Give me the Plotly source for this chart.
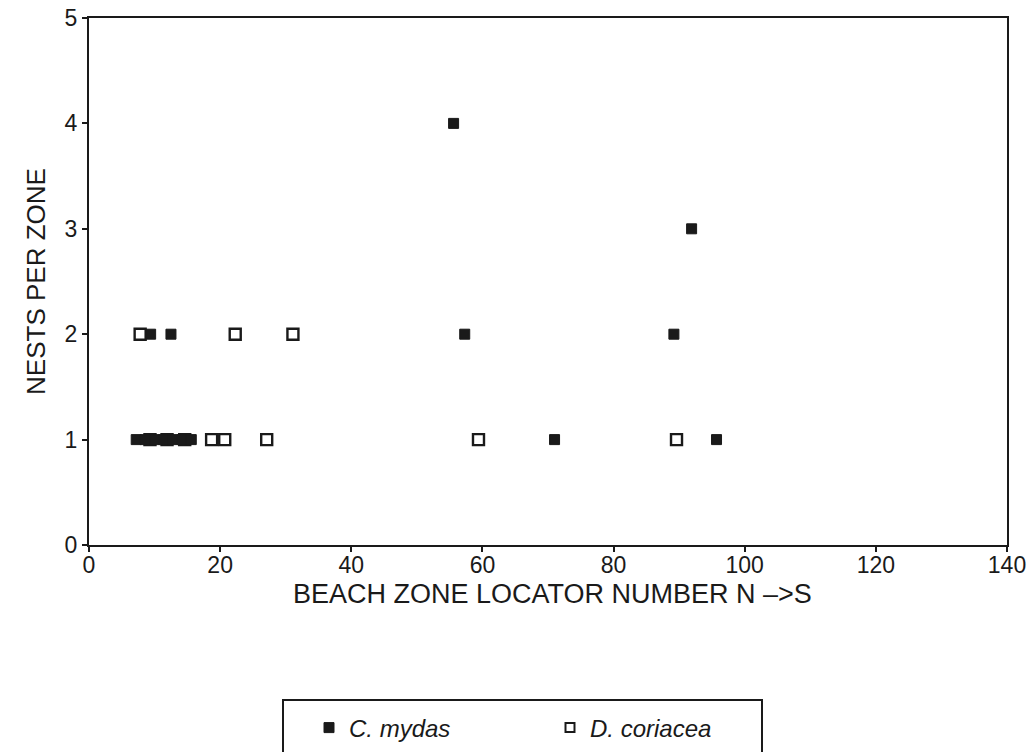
import plotly.graph_objects as go

# C. mydas (filled)
mydas_x = [7.2, 8.6, 10.0, 11.4, 12.8, 14.2, 15.6, 9.4, 12.5, 55.6, 57.3, 89.2, 91.9, 71.0, 95.7]
mydas_y = [1, 1, 1, 1, 1, 1, 1, 2, 2, 4, 2, 2, 3, 1, 1]

# D. coriacea (open)
cor_x = [9.3, 11.9, 14.6, 18.7, 20.7, 27.1, 59.4, 89.6, 7.8, 22.3, 31.1]
cor_y = [1, 1, 1, 1, 1, 1, 1, 1, 2, 2, 2]

x_ticks = [0, 20, 40, 60, 80, 100, 120, 140]
y_ticks = [0, 1, 2, 3, 4, 5]

FONT = "Liberation Sans, Arial, sans-serif"
INK = "#1a1a1a"

fig = go.Figure()
fig.add_trace(go.Scatter(
    x=cor_x, y=cor_y, mode="markers", name="D. coriacea",
    marker=dict(symbol="square", size=11, color="white",
                line=dict(color=INK, width=2.4)),
    showlegend=False))
fig.add_trace(go.Scatter(
    x=mydas_x, y=mydas_y, mode="markers", name="<i>C. mydas</i>",
    marker=dict(symbol="square", size=10, color=INK,
                line=dict(color=INK, width=1))))
fig.add_trace(go.Scatter(
    x=[None], y=[None], mode="markers", name="<i>D. coriacea</i>",
    marker=dict(symbol="square", size=9, color="white",
                line=dict(color=INK, width=2))))

axis_common = dict(
    showline=True, linecolor=INK, linewidth=2, mirror=True,
    showgrid=False, zeroline=False, ticks="outside", ticklen=5,
    tickwidth=1.5, tickcolor=INK, automargin=False,
    tickfont=dict(family=FONT, size=23, color=INK),
)

fig.update_layout(
    width=1036, height=752,
    margin=dict(l=89, r=29, t=18, b=207),
    paper_bgcolor="white", plot_bgcolor="white",
    xaxis=dict(range=[0, 140], tickvals=x_ticks, ticktext=[str(v) for v in x_ticks],
               ticklabelstandoff=-7, **axis_common),
    yaxis=dict(range=[0, 5], tickvals=y_ticks, ticktext=[str(v) for v in y_ticks],
               title=dict(text="NESTS PER ZONE", standoff=12,
                          font=dict(family=FONT, size=26, color=INK)),
               **axis_common),
    legend=dict(orientation="h", xref="container", yref="container",
                x=550 / 1036, xanchor="center", y=(752 - 728) / 752, yanchor="middle",
                font=dict(family=FONT, size=24, color=INK),
                bgcolor="rgba(0,0,0,0)", borderwidth=0,
                entrywidth=196, entrywidthmode="pixels"),
    annotations=[dict(text="BEACH ZONE LOCATOR NUMBER N \u2013>S", xref="paper", yref="paper",
                      x=(552 - 89) / 918, y=(545 - 594) / 527, xanchor="center", yanchor="middle",
                      showarrow=False, font=dict(family=FONT, size=27, color=INK))],
    shapes=[dict(type="rect", xref="paper", yref="paper",
                 x0=(283 - 89) / 918, x1=(762 - 89) / 918,
                 y0=(545 - 762) / 527, y1=(545 - 700) / 527,
                 line=dict(color=INK, width=2), fillcolor="rgba(0,0,0,0)")],
)

fig.write_html("out.html")
